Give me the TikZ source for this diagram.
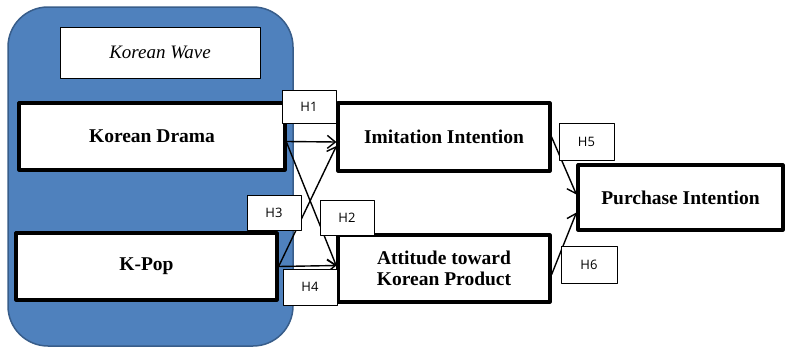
\documentclass[tikz,border=0pt]{standalone}
\usepackage{fontspec}
\setmainfont{Liberation Serif}
\newfontfamily\hlabfont{Open Sans}
\usetikzlibrary{arrows.meta,calc}
\definecolor{waveblue}{RGB}{79,129,189}
\definecolor{waveedge}{RGB}{56,93,138}
\tikzset{
  varbox/.style={draw, line width=3.2pt, fill=white, inner sep=0pt, align=center,
    font=\fontsize{19.5}{21}\selectfont\bfseries},
  hbox/.style={draw, line width=0.8pt, fill=white, inner sep=0pt,
    font=\fontsize{13}{15}\selectfont\hlabfont},
  link/.style={line width=1.4pt, -{Straight Barb[length=8pt,width=13pt,line width=1.4pt]}}
}
\begin{document}
\begin{tikzpicture}[x=1pt, y=-1pt, line join=round, line cap=round]
	\useasboundingbox (0,0) rectangle (787,348);
	% blue group
	\draw[fill=waveblue, draw=waveedge, line width=1.5pt, rounded corners=40pt] (8,7) rectangle (293,346);
	\node[draw, line width=0.8pt, fill=white, minimum width=200pt, minimum height=51pt,
		font=\fontsize{19}{21}\selectfont\itshape] (wave) at (160,52.5) {Korean Wave};
	% variables
	\node[varbox, minimum width=266pt, minimum height=67pt] (drama) at (152,136.5) {Korean Drama};
	\node[varbox, minimum width=261pt, minimum height=67pt] (kpop) at (146.5,266.5) {K-Pop};
	\node[varbox, minimum width=212pt, minimum height=68pt] (imit) at (444,137) {Imitation Intention};
	\node[varbox, minimum width=212pt, minimum height=67pt] (att) at (444,268.5) {Attitude toward\\Korean Product};
	\node[varbox, minimum width=205pt, minimum height=65pt] (purch) at (680.5,197.5) {Purchase Intention};
	% paths
	\draw[link] ($(drama.east)+(0,5)$) -- ($(imit.west)+(0,5)$);
	\draw[link] ($(drama.east)+(0,6)$) -- ($(att.west)+(0,-2.5)$);
	\draw[link] (kpop.east) -- ($(imit.west)+(0,9)$);
	\draw[link] (kpop.east) -- ($(att.west)+(0,-3)$);
	\draw[link] (imit.east) -- ($(purch.west)+(0,-3)$);
	\draw[link] ($(att.east)+(0,6)$) -- ($(purch.west)+(0,15)$);
	% hypotheses
	\node[hbox, minimum width=54pt, minimum height=33pt] (h1) at (309,106.5) {H1};
	\node[hbox, minimum width=54pt, minimum height=35pt] (h2) at (347,217.5) {H2};
	\node[hbox, minimum width=54pt, minimum height=35pt] (h3) at (274,212.5) {H3};
	\node[hbox, minimum width=54pt, minimum height=36pt] (h4) at (310,287) {H4};
	\node[hbox, minimum width=55pt, minimum height=37pt] (h5) at (586.5,141.5) {H5};
	\node[hbox, minimum width=56pt, minimum height=37pt] (h6) at (589,264.5) {H6};
\end{tikzpicture}
\end{document}
